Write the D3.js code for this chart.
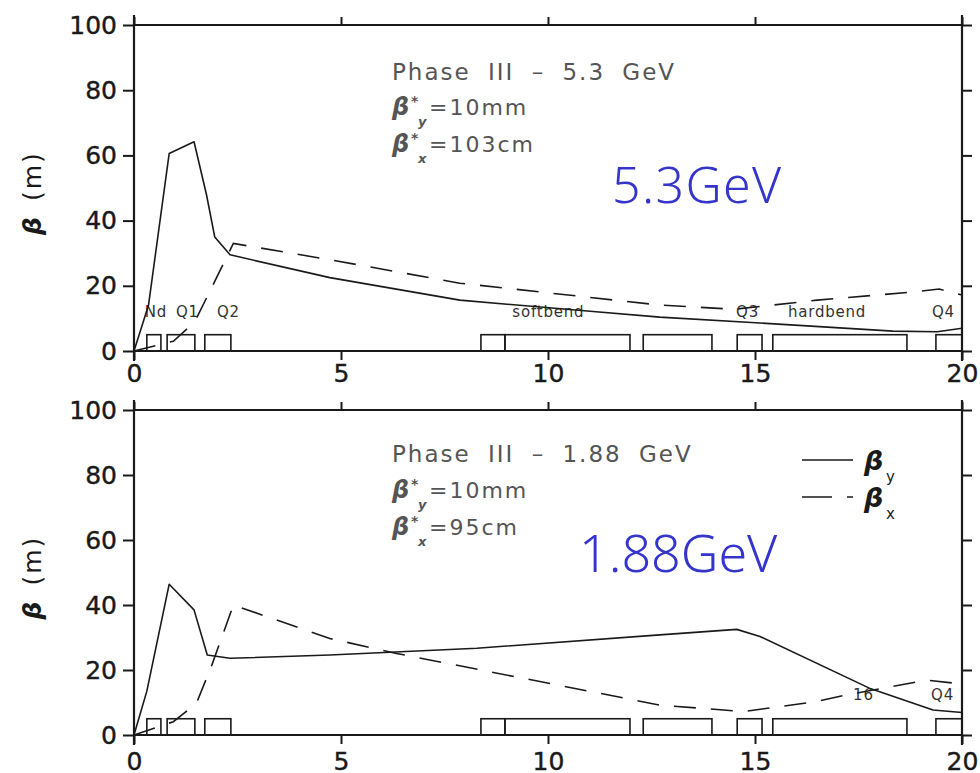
<!DOCTYPE html>
<html>
<head>
<meta charset="utf-8">
<script src="https://cdn.jsdelivr.net/npm/d3@7"></script>
<style>
  html, body { margin: 0; padding: 0; background: #fff; }
  svg { display: block; }
</style>
</head>
<body>
<svg id="chart" width="980" height="773"></svg>
<script>
// ---------------- data ----------------
const xTicks = [0, 5, 10, 15, 20];
const yTicks = [0, 20, 40, 60, 80, 100];

// Top panel: Phase III - 5.3 GeV  [s (m), beta (m)]
const betaYTop = [[0,0],[0.35,14],[0.85,60.6],[1.45,64.2],[1.75,48],[1.95,35],[2.32,29.5],[4.73,22.5],[7.87,15.6],[11.09,12.1],[12.7,10.4],[15.12,8.6],[18.33,6.1],[19.4,5.9],[20,7]];
const betaXTop = [[0,0],[0.95,3],[1.47,9],[2.4,33],[4.73,28],[7.87,20.8],[12.7,14.1],[14.5,12.8],[16.5,15.6],[18.9,18.2],[19.45,19],[20,17.2]];

// Bottom panel: Phase III - 1.88 GeV
const betaYBot = [[0,0],[0.31,13.5],[0.85,46.4],[1.45,38.5],[1.77,24.6],[2.32,23.6],[4.73,24.6],[8.28,26.7],[12.7,30.8],[14.56,32.5],[15.12,30.3],[17.8,14.2],[19.3,7.7],[20,6.9]];
const betaXBot = [[0,0],[0.95,4.1],[1.51,9.8],[1.88,21.5],[2.4,40],[4.73,29.7],[6.34,25.1],[12.7,9.2],[14.72,7.2],[16.49,10.3],[17.2,12.3],[19.14,16.9],[20,15.7]];

// Magnet elements [start, end] in s (m); height 5 m on the plot
const elements = [[0.31,0.65],[0.80,1.47],[1.71,2.34],[8.38,8.96],[8.96,11.98],[12.30,13.96],[14.57,15.17],[15.43,18.67],[19.37,20]];
const elementHeight = 5;

const elemLabelsTop = [["Nd",0.53],["Q1",1.29],["Q2",2.28],["softbend",10.01],["Q3",14.82],["hardbend",16.74],["Q4",19.55]];
const elemLabelsBot = [["16",17.62],["Q4",19.53]];

const titleTop = "Phase III \u2013 5.3 GeV";
const titleBot = "Phase III \u2013 1.88 GeV";
const betaYStarTop = "=10mm", betaXStarTop = "=103cm";
const betaYStarBot = "=10mm", betaXStarBot = "=95cm";
const energyTop = "5.3GeV", energyBot = "1.88GeV";

// ---------------- drawing ----------------
const svg = d3.select("#chart");
const ink = "#1a1a1a";
const x = d3.scaleLinear().domain([0, 20]).range([134, 962]);

function panel(cfg) {
  const y = d3.scaleLinear().domain([0, 100]).range([cfg.bottom, cfg.top]);
  const g = svg.append("g");

  // axes
  const fontAxis = "DejaVu Sans";
  const left = g.append("g").attr("transform", `translate(${x(0)},0)`)
    .call(d3.axisLeft(y).tickValues(yTicks).tickSize(11).tickSizeOuter(0).tickPadding(6).tickFormat(d3.format("d")));
  const right = g.append("g").attr("transform", `translate(${x(20)},0)`)
    .call(d3.axisRight(y).tickValues(yTicks).tickSize(10).tickSizeOuter(0).tickFormat(""));
  const bottom = g.append("g").attr("transform", `translate(0,${y(0)})`)
    .call(d3.axisBottom(x).tickValues(xTicks).tickSize(9).tickSizeOuter(0).tickPadding(cfg.xPad).tickFormat(d3.format("d")));
  const top = g.append("g").attr("transform", `translate(0,${y(100)})`)
    .call(d3.axisTop(x).tickValues(xTicks).tickSize(8).tickSizeOuter(0).tickFormat(""));
  [left, right, bottom, top].forEach(a => {
    a.select(".domain").remove();
    a.selectAll(".tick line").attr("stroke", ink).attr("stroke-width", 2);
    a.selectAll(".tick text").attr("fill", ink).attr("font-family", fontAxis).attr("font-size", 25)
      .attr("stroke", ink).attr("stroke-width", 0.4);
  });
  bottom.selectAll(".tick text").attr("dy", "0.71em");
  // frame lines
  g.append("line").attr("x1", x(0)).attr("x2", x(0)).attr("y1", y(100) - 10).attr("y2", y(0) + 10).attr("stroke", ink).attr("stroke-width", 2.2);
  g.append("line").attr("x1", x(20)).attr("x2", x(20)).attr("y1", y(100) - 10).attr("y2", y(0) + 10).attr("stroke", ink).attr("stroke-width", 2.2);
  g.append("line").attr("x1", x(0)).attr("x2", x(20)).attr("y1", y(0)).attr("y2", y(0)).attr("stroke", ink).attr("stroke-width", 2.2);
  g.append("line").attr("x1", x(0)).attr("x2", x(20)).attr("y1", y(100)).attr("y2", y(100)).attr("stroke", ink).attr("stroke-width", 2.2);

  // y title
  const yt = g.append("text")
    .attr("transform", `translate(32,${(y(0) + y(100)) / 2 + 5}) rotate(-90)`)
    .attr("text-anchor", "middle").attr("dominant-baseline", "central")
    .attr("font-family", "DejaVu Sans").attr("font-size", 25).attr("fill", ink)
    .attr("letter-spacing", 2);
  yt.append("tspan").attr("font-weight", "bold").attr("font-style", "italic").text("\u03B2");
  yt.append("tspan").attr("dx", 14).text("(m)");

  // elements
  g.append("g").selectAll("rect").data(elements).join("rect")
    .attr("x", d => x(d[0])).attr("width", d => x(d[1]) - x(d[0]))
    .attr("y", y(elementHeight)).attr("height", y(0) - y(elementHeight))
    .attr("fill", "none").attr("stroke", ink).attr("stroke-width", 1.6);

  // element labels
  g.append("g").selectAll("text").data(cfg.labels).join("text")
    .attr("x", d => x(d[1])).attr("y", cfg.labelY)
    .attr("text-anchor", "middle").attr("font-family", "DejaVu Sans")
    .attr("font-size", 15).attr("letter-spacing", 0.8).attr("fill", "#333")
    .text(d => d[0]);

  // curves
  const line = d3.line().x(d => x(d[0])).y(d => y(d[1]));
  g.append("path").datum(cfg.by).attr("d", line).attr("fill", "none")
    .attr("stroke", ink).attr("stroke-width", 1.6).attr("stroke-linejoin", "round");
  g.append("path").datum(cfg.bx).attr("d", line).attr("fill", "none")
    .attr("stroke", ink).attr("stroke-width", 1.6).attr("stroke-dasharray", "22,15");

  // annotation
  const ann = g.append("g").attr("fill", "#555").attr("font-family", "DejaVu Sans");
  ann.append("text").attr("x", 392).attr("y", cfg.top + cfg.annY[0])
    .attr("font-size", 23).attr("letter-spacing", 2).attr("word-spacing", 8).text(cfg.title);
  [[cfg.starY, "y", cfg.annY[1]], [cfg.starX, "x", cfg.annY[2]]].forEach(([txt, sub, dy]) => {
    const by = cfg.top + dy;
    ann.append("text").attr("x", 392).attr("y", by).attr("font-size", 24)
      .attr("font-weight", "bold").attr("font-style", "italic").text("\u03B2");
    ann.append("text").attr("x", 411).attr("y", by - 9).attr("font-size", 14)
      .attr("font-weight", "bold").text("*");
    ann.append("text").attr("x", 418).attr("y", by + 11).attr("font-size", 13)
      .attr("font-style", "italic").attr("font-weight", "bold").text(sub);
    ann.append("text").attr("x", 429).attr("y", by).attr("font-size", 22)
      .attr("letter-spacing", 2).text(txt);
  });

  // energy label
  g.append("text").attr("x", cfg.energyX).attr("y", cfg.energyY)
    .attr("font-family", "Noto Sans").attr("font-weight", 300).attr("font-size", cfg.energySize)
    .attr("letter-spacing", cfg.energyLS).attr("fill", "#3535cc").text(cfg.energy);

  return { g, y };
}

panel({ top: 25, bottom: 351, xPad: 4, by: betaYTop, bx: betaXTop, labels: elemLabelsTop, labelY: 317,
  title: titleTop, starY: betaYStarTop, starX: betaXStarTop, annY: [55, 90, 127],
  energy: energyTop, energyX: 612, energyY: 203, energySize: 50, energyLS: 1.4 });

panel({ top: 410, bottom: 735, xPad: 8, by: betaYBot, bx: betaXBot, labels: elemLabelsBot, labelY: 700,
  title: titleBot, starY: betaYStarBot, starX: betaXStarBot, annY: [52, 88, 125],
  energy: energyBot, energyX: 579, energyY: 572, energySize: 52, energyLS: 0 });

// legend (bottom panel)
const leg = svg.append("g").attr("font-family", "DejaVu Sans").attr("fill", ink);
const legItems = [["y", null, 460], ["x", "30,15", 497]];
legItems.forEach(([sub, dash, ly]) => {
  leg.append("line").attr("x1", 802).attr("x2", 853).attr("y1", ly).attr("y2", ly)
    .attr("stroke", ink).attr("stroke-width", 1.6).attr("stroke-dasharray", dash);
  leg.append("text").attr("x", 864).attr("y", ly + 10).attr("font-size", 27)
    .attr("font-weight", "bold").attr("font-style", "italic").text("\u03B2");
  leg.append("text").attr("x", 886).attr("y", ly + 22).attr("font-size", 15).text(sub);
});
</script>
</body>
</html>
